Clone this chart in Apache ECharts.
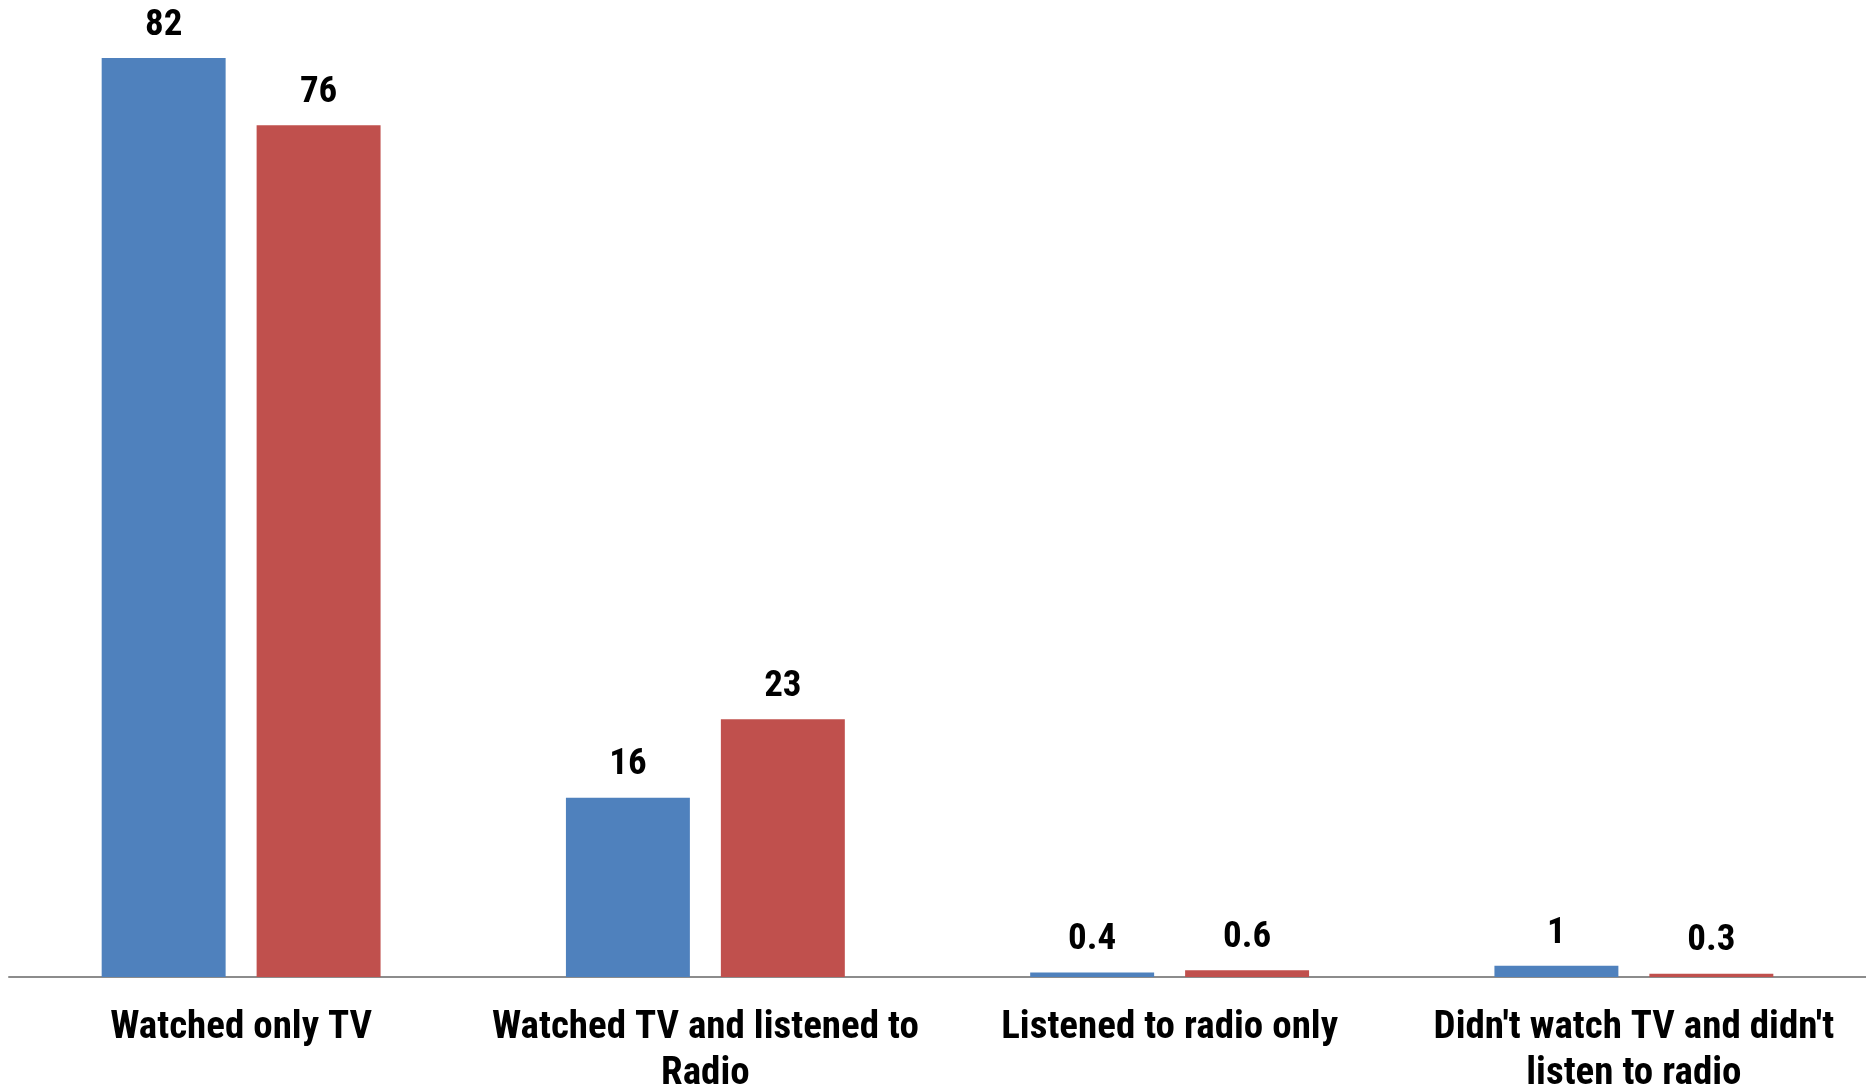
<!DOCTYPE html>
<html>
<head>
<meta charset="utf-8">
<script src="https://cdn.jsdelivr.net/npm/echarts@6/dist/echarts.min.js"></script>
<style>
  html, body { margin: 0; padding: 0; background: #ffffff; }
  #chart { width: 1866px; height: 1087px; }
</style>
</head>
<body>
<div id="chart"></div>
<script>
// Media use categories and the two survey groups' shares (%)
const categories = [
  'Watched only TV',
  'Watched TV and listened to\nRadio',
  'Listened to radio only',
  "Didn't watch TV and didn't\nlisten to radio"
];
const seriesA = [82, 16, 0.4, 1];
const seriesB = [76, 23, 0.6, 0.3];

const labelFont = "'Liberation Sans Narrow', 'Roboto Condensed', 'Liberation Sans', sans-serif";

const chart = echarts.init(document.getElementById('chart'));
const valueLabel = {
  show: true,
  position: 'top',
  distance: 14,
  fontFamily: labelFont,
  fontWeight: 'bold',
  fontSize: 37,
  color: '#000000'
};

chart.setOption({
  animation: false,
  grid: {
    left: 9, right: 0, top: 58, bottom: 110,
    containLabel: false,
    outerBoundsMode: 'none'
  },
  xAxis: {
    type: 'category',
    data: categories,
    axisLine: { show: true, lineStyle: { color: '#8c8c8c', width: 2 } },
    axisTick: { show: false },
    axisLabel: {
      interval: 0,
      margin: 28,
      fontFamily: labelFont,
      fontWeight: 'bold',
      fontSize: 39,
      lineHeight: 46,
      color: '#000000'
    }
  },
  yAxis: {
    type: 'value',
    min: 0,
    max: 82,
    show: false,
    splitLine: { show: false }
  },
  series: [
    {
      type: 'bar',
      data: seriesA,
      barWidth: '26.7%',
      barGap: '25%',
      itemStyle: { color: '#4F81BD' },
      label: valueLabel
    },
    {
      type: 'bar',
      data: seriesB,
      barWidth: '26.7%',
      barGap: '25%',
      itemStyle: { color: '#C0504D' },
      label: valueLabel
    }
  ]
});
</script>
</body>
</html>
